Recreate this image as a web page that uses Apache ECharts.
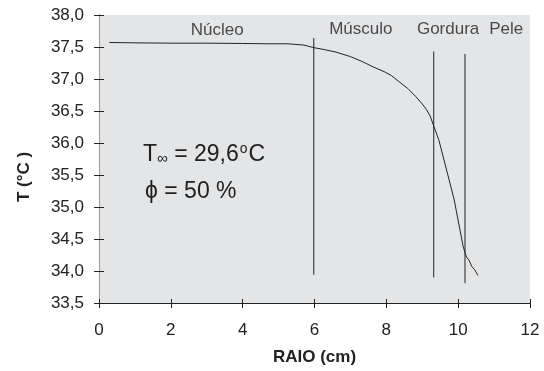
<!DOCTYPE html>
<html>
<head>
<meta charset="utf-8">
<script src="https://cdn.jsdelivr.net/npm/echarts@6/dist/echarts.min.js"></script>
<style>html,body{margin:0;padding:0;background:#fff}#c{width:544px;height:371px}</style>
</head>
<body>
<div id="c"></div>
<script>
// ---- data ----
const radius = [0.29, 1.0, 2.0, 3.0, 4.0, 4.7, 5.26, 5.7, 5.98, 6.27, 6.6, 7.0, 7.3, 7.63, 7.96, 8.15, 8.35, 8.6, 8.83, 9.0, 9.12, 9.22, 9.31, 9.46, 9.70, 9.89, 10.14, 10.23, 10.30, 10.38, 10.46, 10.55];
const temperature = [37.57, 37.565, 37.56, 37.56, 37.555, 37.55, 37.55, 37.53, 37.49, 37.46, 37.42, 37.35, 37.28, 37.19, 37.11, 37.05, 36.96, 36.85, 36.72, 36.61, 36.52, 36.42, 36.28, 36.05, 35.53, 35.11, 34.38, 34.22, 34.17, 34.07, 34.02, 33.93];
const boundaryX = [5.98, 9.32, 10.19];
const boundaryTop = [37.64, 37.43, 37.39];
const boundaryBottom = [33.94, 33.90, 33.81];
const regionNames = ['Núcleo', 'Músculo', 'Gordura', 'Pele'];
const regionX = [3.29, 7.29, 9.72, 11.34];
const regionT = [37.76, 37.77, 37.77, 37.77];
const xMin = 0, xMax = 12, xStep = 2;
const yMin = 33.5, yMax = 38.0, yStep = 0.5;

const FONT = "'Liberation Sans', Arial, sans-serif";
const INK = '#222';

const curve = radius.map((r, i) => [r, temperature[i]]);
const boundarySeries = boundaryX.map((x, i) => ({
  type: 'line', xAxisIndex: 0, yAxisIndex: 0, symbol: 'none', silent: true,
  lineStyle: { color: INK, width: 1 },
  data: [[x, boundaryTop[i]], [x, boundaryBottom[i]]]
}));

const chart = echarts.init(document.getElementById('c'), null, { renderer: 'canvas' });
chart.setOption({
  animation: false,
  backgroundColor: '#fff',
  grid: { left: 99, right: 14, top: 15, bottom: 68, show: true, backgroundColor: '#e4e5e7', borderWidth: 0 },
  xAxis: [
    {
      type: 'value', min: xMin, max: xMax, interval: xStep, position: 'bottom',
      axisLine: { show: true, onZero: false, lineStyle: { color: INK, width: 1 } },
      axisTick: { show: true, inside: false, length: 5, lineStyle: { color: INK } },
      axisLabel: { color: INK, fontSize: 17, fontFamily: FONT, margin: 19 },
      splitLine: { show: false },
      name: 'RAIO (cm)', nameLocation: 'middle', nameGap: 46,
      nameTextStyle: { color: INK, fontSize: 17, fontWeight: 'bold', fontFamily: FONT }
    },
    {
      type: 'value', min: xMin, max: xMax, interval: xStep, position: 'bottom',
      axisLine: { show: false },
      axisTick: { show: true, inside: true, length: 4, lineStyle: { color: INK } },
      axisLabel: { show: false }, splitLine: { show: false }
    }
  ],
  yAxis: [
    {
      type: 'value', min: yMin, max: yMax, interval: yStep, position: 'left',
      axisLine: { show: true, onZero: false, lineStyle: { color: INK, width: 1 } },
      axisTick: { show: true, inside: false, length: 5, lineStyle: { color: INK } },
      axisLabel: { color: INK, fontSize: 17, fontFamily: FONT, margin: 15,
        formatter: v => v.toFixed(1).replace('.', ',') },
      splitLine: { show: false }
    },
    {
      type: 'value', min: yMin, max: yMax, interval: yStep, position: 'left',
      axisLine: { show: false },
      axisTick: { show: true, inside: true, length: 5, lineStyle: { color: INK } },
      axisLabel: { show: false }, splitLine: { show: false }
    },
    {
      type: 'value', min: yMin, max: yMax, interval: yStep, position: 'right',
      axisLine: { show: true, lineStyle: { color: '#9a9a9a', width: 1 } },
      axisTick: { show: false }, axisLabel: { show: false }, splitLine: { show: false }
    }
  ],
  series: [
    {
      type: 'line', xAxisIndex: 0, yAxisIndex: 0, symbol: 'none', smooth: false, silent: true,
      lineStyle: { color: INK, width: 1 },
      data: curve
    },
    ...boundarySeries,
    {
      type: 'scatter', xAxisIndex: 0, yAxisIndex: 0, symbolSize: 0, silent: true,
      data: regionNames.map((n, i) => ({ value: [regionX[i], regionT[i]], name: n })),
      label: {
        show: true, position: [0, 0], align: 'center', verticalAlign: 'middle',
        formatter: p => p.name, color: INK, fontSize: 17, fontFamily: FONT
      }
    }
  ],
  graphic: [
    {
      type: 'text', x: 24, y: 177, rotation: Math.PI / 2, silent: true,
      style: { text: 'T (°C )', fill: INK, font: 'bold 17px ' + FONT, align: 'center', verticalAlign: 'middle' }
    },
    {
      type: 'text', x: 143, y: 155, silent: true,
      style: {
        text: '{a|T}{s|∞}{a| = 29,6}{o|o}{a|C}',
        align: 'left', verticalAlign: 'middle',
        rich: {
          a: { fontSize: 23, fontFamily: FONT, fill: INK, color: INK, lineHeight: 26 },
          s: { fontSize: 15, fontFamily: FONT, fill: INK, color: INK, verticalAlign: 'bottom', lineHeight: 15, padding: [0, 0, 2, 0] },
          o: { fontSize: 14, fontFamily: FONT, fill: INK, color: INK, verticalAlign: 'top', lineHeight: 14, padding: [0, 1, 0, 1] }
        }
      }
    },
    {
      type: 'text', x: 145, y: 192, silent: true,
      style: { text: 'ϕ = 50 %', fill: INK, font: '23px ' + FONT, align: 'left', verticalAlign: 'middle' }
    }
  ]
});
</script>
</body>
</html>
